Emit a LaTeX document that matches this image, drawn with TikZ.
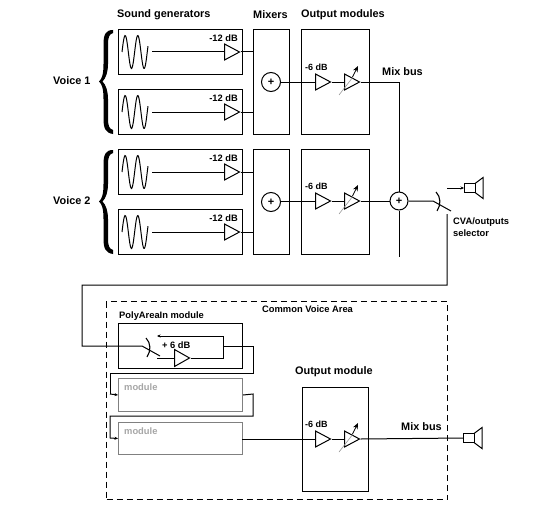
\documentclass[tikz,border=0pt]{standalone}
\usepackage{fontspec}
\setmainfont{Liberation Sans}
\usetikzlibrary{shapes.geometric,arrows.meta,calc}
\definecolor{modgray}{gray}{0.5}
\definecolor{modtext}{gray}{0.65}
\tikzset{
  x=1pt,y=-1pt,
  wire/.style={line width=1pt,draw=black},
  box/.style={draw=black,line width=1pt,fill=none,inner sep=0pt,anchor=north west},
  graybox/.style={box,draw=modgray},
  amp/.style={draw=black,line width=1pt,isosceles triangle,isosceles triangle apex angle=55,isosceles triangle stretches,minimum width=16pt,minimum height=15pt,inner sep=0pt,anchor=lower side,fill=white},
  sumnode/.style={draw=black,line width=1pt,circle,minimum size=#1,inner sep=0pt,font=\bfseries\fontsize{11}{11}\selectfont,fill=white},
  lab/.style={font=\bfseries\fontsize{10.9}{12}\selectfont,inner sep=0pt,anchor=west,text=black},
  small/.style={font=\bfseries\fontsize{9.3}{10}\selectfont,inner sep=0pt,anchor=west},
  tiny/.style={font=\bfseries\fontsize{9.35}{10}\selectfont,inner sep=0pt,anchor=west},
  arr/.style={wire,-{Stealth[length=3.5pt,width=3pt]}},
}
\newcommand{\genbox}[2]{%
  \node[box,minimum width=124pt,minimum height=45pt] (#1) at (118,#2) {};
  \draw[line width=1pt] plot[smooth,domain=0:26,samples=45,variable=\t] ({122+\t},{#2+23-16.5*sin(\t*28.5)});
  \coordinate (#1w) at (152,#2+23);
  \node[amp] (#1a) at (224,#2+23) {};
  \draw[wire] (#1w) -- (#1a.lower side);
  \node[small,anchor=east] (#1db) at (238,#2+9) {-12 dB};
}
\newcommand{\outamps}[3]{% name, signal y, label x
  \node[amp] (#1a) at (315,#2) {};
  \node[amp] (#1b) at (344,#2) {};
  \draw[wire] (#1a.apex) -- (#1b.lower side);
  \draw[line width=0.6pt,draw=black!40] (339,#2+13) -- (353,#2-5);
  \draw[line width=0.8pt,-{Stealth[length=6pt,width=5pt]}] (352.5,#2-5) -- (358,#2-16);
  \node[small,font=\bfseries\fontsize{9}{10}\selectfont,anchor=west] (#1db) at (#3,#2-15) {-6 dB};
}
\newcommand{\speaker}[3]{% name, x, y
  \node[draw=black,line width=1pt,minimum width=11pt,minimum height=9pt,inner sep=0pt,anchor=west] (#1) at (#2,#3) {};
  \coordinate (#1in) at (#2,#3);
  \draw[line width=1pt] (#2+11,#3-4.5) -- (#2+19,#3-10.5) -- (#2+19,#3+10.5) -- (#2+11,#3+4.5);
}
\begin{document}
\begin{tikzpicture}
\useasboundingbox (0,0) rectangle (548,519);
\fill[white] (0,0) rectangle (548,519);

% headings
\node[lab] (h1) at (117,15) {Sound generators};
\node[lab,anchor=center] (h2) at (270.5,15) {Mixers};
\node[lab] (h3) at (301,15) {Output modules};
\node[lab] (v1) at (53,81) {Voice 1};
\node[lab] (v2) at (53,201) {Voice 2};
\node[lab] (mb1) at (382,72) {Mix bus};

% braces
\foreach \t in {29,149}{
  \fill[black] (113,\t+1) .. controls (106,\t+1) and (103.5,\t+5) .. (103.5,\t+15)
     -- (103.5,\t+35) .. controls (103.5,\t+45) and (102,\t+50) .. (99,\t+52.5)
     .. controls (102,\t+55) and (103.5,\t+60) .. (103.5,\t+70)
     -- (103.5,\t+90) .. controls (103.5,\t+100) and (106,\t+104) .. (113,\t+105)
     -- (113,\t+101) .. controls (109.5,\t+100) and (108,\t+97) .. (108,\t+90)
     -- (108,\t+70) .. controls (108,\t+62) and (106,\t+56) .. (102.5,\t+52.5)
     .. controls (106,\t+49) and (108,\t+43) .. (108,\t+35)
     -- (108,\t+15) .. controls (108,\t+8) and (109.5,\t+5) .. (113,\t+4) -- cycle;
}

% sound generators
\genbox{ga}{29}
\genbox{gb}{89}
\genbox{gc}{149}
\genbox{gd}{209}

% mixers
\node[box,minimum width=36pt,minimum height=105pt] (m1) at (253,29) {};
\node[box,minimum width=36pt,minimum height=105pt] (m2) at (253,149) {};
\node[sumnode=19pt] (s1) at (271,82) {+};
\node[sumnode=19pt] (s2) at (271,202) {+};
\foreach \g/\m in {ga/m1,gb/m1,gc/m2,gd/m2}{
  \draw[wire] (\g a.apex) -- (\g a.apex -| \m.west);
}

% output modules
\node[box,minimum width=68pt,minimum height=105pt] (o1) at (301,29) {};
\node[box,minimum width=68pt,minimum height=105pt] (o2) at (301,149) {};
\outamps{p}{82}{305}
\outamps{q}{201}{305}
\draw[wire] (s1) -- (pa.lower side);
\draw[wire] (s2.east |- qa.lower side) -- (qa.lower side);

% mix bus
\node[sumnode=18pt] (s3) at (399,201) {+};
\coordinate (bustop) at (399,82);
\coordinate (busend) at (399,257);
\draw[wire] (pb.apex) -- (bustop) -- (s3);
\draw[wire] (s3) -- (busend);
\draw[wire] (qb.apex) -- (s3);

% selector
\coordinate (sw) at (433,201);
\coordinate (swend) at (451,211);
\coordinate (swret) at (447,214);
\draw[wire] (s3) -- (sw) -- (swend);
\draw[line width=1.1pt] (436,192) .. controls (441,197) and (441,205) .. (437,211);
\speaker{sp1}{464}{188}
\coordinate (spa) at (447,188);
\draw[arr] (spa) -- (sp1in);
\node[tiny] (cva1) at (453,222) {CVA/outputs};
\node[tiny] (cva2) at (453,233) {selector};

% common voice area
\node[box,dash pattern=on 6pt off 4pt,minimum width=341pt,minimum height=198pt] (cva) at (106,301) {};
\node[tiny] (cvat) at (262,309) {Common Voice Area};
\node[tiny] (pat) at (119,316) {PolyAreaIn module};
\node[box,minimum width=124pt,minimum height=45pt] (pm) at (118,323) {};
\node[graybox,minimum width=124pt,minimum height=33pt] (m3) at (118,378) {};
\node[graybox,minimum width=124pt,minimum height=32pt] (m4) at (118,422) {};
\node[tiny,text=modtext] (m3t) at (124,387) {module};
\node[tiny,text=modtext] (m4t) at (124,431) {module};
\node[small] (pdb) at (162,345) {+ 6 dB};

% link to polyarea
\coordinate (c1) at (447,285);
\coordinate (c2) at (82,285);
\coordinate (c3) at (82,346);
\coordinate (psw) at (142,346);
\coordinate (pswend) at (160,356);
\draw[wire] (swret) -- (c1) -- (c2) -- (c3) -- (psw) -- (pswend);
\draw[line width=1.1pt] (146,338) .. controls (151,343) and (151,351) .. (147,357);

% polyarea internals
\node[amp,minimum width=17pt] (pam) at (174,358) {};
\coordinate (fbr) at (223,358);
\coordinate (fbt) at (223,336);
\coordinate (fbl) at (157,336);
\coordinate (pin) at (157,358);
\draw[wire] (pin) -- (pam.lower side);
\draw[arr] (pam.apex) -- (fbr) -- (fbt) -- (fbl);
\coordinate (pout) at (223,346);
\coordinate (r1) at (253,346);
\coordinate (r2) at (253,373);
\coordinate (r3) at (110,373);
\coordinate (r4) at (110,394);
\draw[wire] (pout) -- (r1) -- (r2) -- (r3) -- (r4);
\draw[arr] (r4) -- (m3.west);
\coordinate (t1) at (253,394);
\coordinate (t2) at (253,416);
\coordinate (t3) at (110,416);
\coordinate (t4) at (110,438);
\draw[wire] (m3.east) -- (t1) -- (t2) -- (t3) -- (t4);
\draw[arr] (t4) -- (m4.west);

% output module (lower)
\node[lab] (omt) at (295,372) {Output module};
\node[box,minimum width=66pt,minimum height=104pt] (om) at (302,387) {};
\outamps{r}{439}{305}
\coordinate (min) at (242,439);
\draw[wire] (min) -- (ra.lower side);
\node[lab] (mb2) at (401,427) {Mix bus};
\speaker{sp2}{463}{438}
\draw[wire] (rb.apex) -- (sp2in);
\end{tikzpicture}
\end{document}
